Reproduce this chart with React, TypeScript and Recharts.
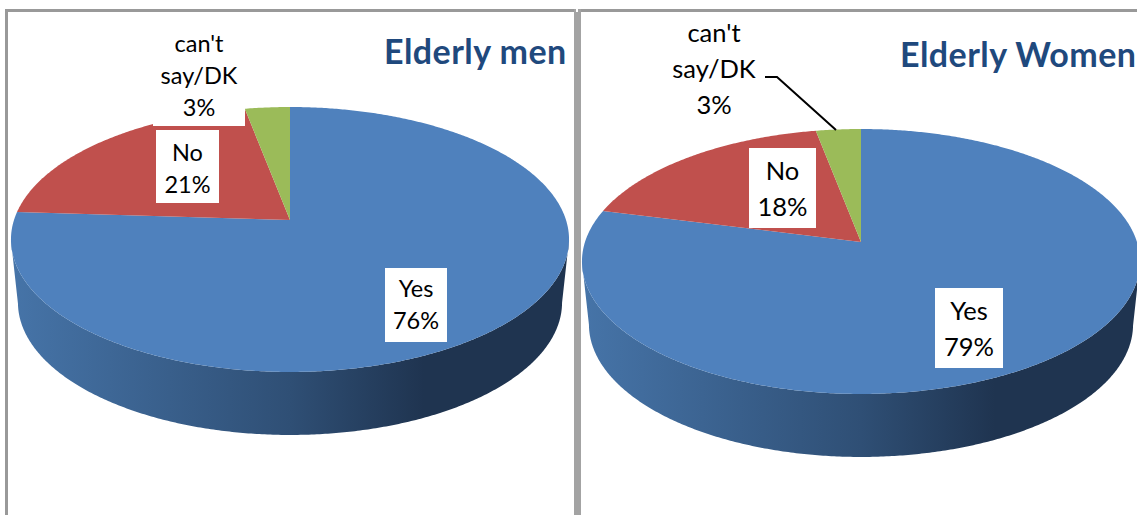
import { PieChart, Pie } from 'recharts';

const categories = ['Yes', 'No', "can't say/DK"];
const menValues = [76, 21, 3];
const womenValues = [79, 18, 3];

const COLORS = ['#4f81bd', '#c0504d', '#9bbb59'];
const FONT = 'Lato, "Open Sans", sans-serif';

// fake 3D: the circle is pushed through a small perspective so the apex sits above the ellipse centre
const TILT = 0.4696;
const PERSPECTIVE = 0.147;
const DEPTH = 63;
const BOTTOM_SHRINK = 0.975;
const RADIUS = 276;

const project = (angle: number, cx: number, cy: number, r: number) => {
  const rad = (angle * Math.PI) / 180;
  const u = Math.cos(rad);
  const v = Math.sin(rad);
  const w = 1 + PERSPECTIVE * v;
  return { x: cx + (r * u) / w, y: cy - (r * TILT * v) / w, v };
};

const renderSlice = (props: any) => {
  const { cx, cy, outerRadius, startAngle, endAngle, fill } = props;
  const from = Math.min(startAngle, endAngle);
  const to = Math.max(startAngle, endAngle);
  const arc: { x: number; y: number; v: number }[] = [];
  for (let a = from; a < to; a += 0.5) arc.push(project(a, cx, cy, outerRadius));
  arc.push(project(to, cx, cy, outerRadius));

  const top = `M${cx},${cy} ` + arc.map((p) => `L${p.x},${p.y}`).join(' ') + ' Z';
  // only the front of the rim shows
  const front = arc.filter((p) => p.v <= -PERSPECTIVE);
  let wall = '';
  if (front.length > 1) {
    const lower = [...front]
      .reverse()
      .map((p) => `L${cx + (p.x - cx) * BOTTOM_SHRINK},${p.y + DEPTH}`)
      .join(' ');
    wall = `M${front[0].x},${front[0].y} ` + front.map((p) => `L${p.x},${p.y}`).join(' ') + ' ' + lower + ' Z';
  }
  return (
    <g>
      {wall && <path d={wall} fill="url(#wallShade)" />}
      <path d={top} fill={fill} />
    </g>
  );
};

const makeLabel = (boxes: any[], fontSize: number, lineHeight: number, leader?: string) => (props: any) => {
  const { cx, cy, index, name, value } = props;
  const box = boxes[index];
  const lines = [...String(name).split(' '), `${value}%`];
  const mid = cy + box.dy + box.h / 2 + box.ty;
  return (
    <g>
      <rect x={cx + box.dx} y={cy + box.dy} width={box.w} height={box.h} fill="#fff" />
      {lines.map((line, i) => (
        <text
          key={line}
          x={cx + box.dx + box.w / 2}
          y={mid + (i - (lines.length - 1) / 2) * lineHeight}
          dy="0.35em"
          textAnchor="middle"
          fill="#000"
          fontFamily={FONT}
          fontSize={fontSize}
        >
          {line}
        </text>
      ))}
      {leader && index === 2 && (
        <path d={leader} transform={`translate(${cx},${cy})`} fill="none" stroke="#000" strokeWidth={2} />
      )}
    </g>
  );
};

const MEN_BOXES = [
  { dx: 95, dy: 48, w: 62, h: 74, ty: 0 },
  { dx: -134, dy: -90, w: 63, h: 73, ty: 2 },
  { dx: -137, dy: -190, w: 92, h: 96, ty: -2 },
];
const WOMEN_BOXES = [
  { dx: 74, dy: 46, w: 68, h: 80, ty: 1 },
  { dx: -112, dy: -94, w: 67, h: 80, ty: 1 },
  { dx: -191, dy: -227, w: 88, h: 107, ty: 1 },
];

const ElderlyPie = ({ title, values, width, cx, cy, titleX, titleY, boxes, fontSize, lineHeight, leader, left }: any) => {
  const data = categories.map((name, i) => ({ name, value: values[i], fill: COLORS[i] }));
  return (
    <div style={{ position: 'absolute', left, top: 0 }}>
      <PieChart width={width} height={515} margin={{ top: 0, right: 0, bottom: 0, left: 0 }}>
        <defs>
          <linearGradient id="wallShade" x1="0" y1="0" x2="1" y2="0">
            <stop offset="0%" stopColor="#4674a8" />
            <stop offset="50%" stopColor="#2f4f75" />
            <stop offset="74%" stopColor="#1f3450" />
            <stop offset="100%" stopColor="#1f3450" />
          </linearGradient>
        </defs>
        <Pie
          data={data}
          dataKey="value"
          nameKey="name"
          cx={cx}
          cy={cy}
          innerRadius={0}
          outerRadius={RADIUS}
          startAngle={90}
          endAngle={-270}
          stroke="none"
          shape={renderSlice}
          label={makeLabel(boxes, fontSize, lineHeight, leader)}
          labelLine={false}
          isAnimationActive={false}
        />
        <text x={titleX} y={titleY} fill="#1f497d" fontFamily={FONT} fontWeight={700} fontSize={34} letterSpacing={0.45}>
          {title}
        </text>
      </PieChart>
    </div>
  );
};

export default function App() {
  return (
    <div style={{ position: 'absolute', left: 0, top: 0, width: 1137, height: 515, overflow: 'hidden', background: '#fff' }}>
      <div style={{ position: 'absolute', left: 5, top: 9, width: 1132, height: 3, background: '#999' }} />
      <div style={{ position: 'absolute', left: 5, top: 9, width: 3, height: 506, background: '#999' }} />
      <div style={{ position: 'absolute', left: 574, top: 9, width: 7, height: 506, background: '#a3a3a3' }} />
      <div style={{ position: 'absolute', left: 576, top: 9, width: 2, height: 3, background: '#fff' }} />
      <ElderlyPie
        title="Elderly men"
        values={menValues}
        left={0}
        width={574}
        cx={290}
        cy={220}
        titleX={384}
        titleY={64}
        boxes={MEN_BOXES}
        fontSize={23.5}
        lineHeight={32}
      />
      <ElderlyPie
        title="Elderly Women"
        values={womenValues}
        left={581}
        width={556}
        cx={280}
        cy={242}
        titleX={319}
        titleY={67}
        boxes={WOMEN_BOXES}
        fontSize={25.5}
        lineHeight={36}
        leader="M-96,-165 L-84,-165 L-25,-112"
      />
    </div>
  );
}
